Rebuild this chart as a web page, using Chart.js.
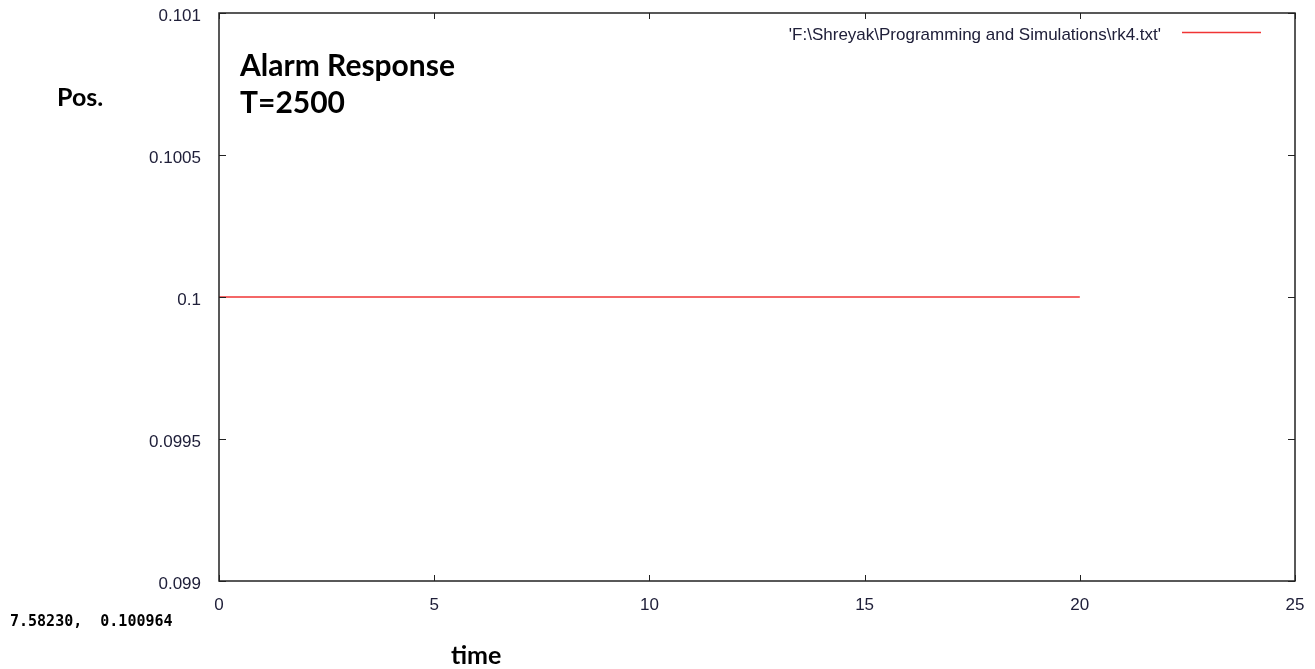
<!DOCTYPE html>
<html>
<head>
<meta charset="utf-8">
<script src="https://cdn.jsdelivr.net/npm/chart.js@4.4.1/dist/chart.umd.min.js"></script>
<style>
  body { margin: 0; background: #fff; }
  #wrap { width: 1315px; height: 669px; }
</style>
</head>
<body>
<div id="wrap"><canvas id="chartAlarm" width="1315" height="669"></canvas></div>
<script>
// data (rk4.txt)
const time = [0, 5, 10, 15, 20];
const pos = [0.1, 0.1, 0.1, 0.1, 0.1];

const xTicks = [0, 5, 10, 15, 20, 25];
const yTicks = [0.099, 0.0995, 0.1, 0.1005, 0.101];
const yTickLabels = ['0.099', '0.0995', '0.1', '0.1005', '0.101'];

const seriesLabel = "'F:\\Shreyak\\Programming and Simulations\\rk4.txt'";
const titleLines = ['Alarm Response', 'T=2500'];
const mouseCoords = '7.58230,  0.100964';

const tickColor = '#20203a';
const boldFont = 'Lato, "Open Sans", sans-serif';
const tickFont = { family: '"Liberation Sans", Arial', size: 17 };

// frame + inside tick marks on all four sides, gnuplot style
const framePlugin = {
    id: 'frame',
    afterDraw(chart) {
        const { ctx, chartArea: a, scales } = chart;
        ctx.save();
        ctx.strokeStyle = '#222';
        ctx.lineWidth = 1.5;
        ctx.strokeRect(a.left, a.top, a.right - a.left, a.bottom - a.top);
        ctx.lineWidth = 1;
        ctx.beginPath();
        xTicks.forEach(v => {
            const px = Math.round(scales.x.getPixelForValue(v)) + 0.5;
            ctx.moveTo(px, a.bottom); ctx.lineTo(px, a.bottom - 6);
            ctx.moveTo(px, a.top); ctx.lineTo(px, a.top + 6);
        });
        yTicks.forEach(v => {
            const py = Math.round(scales.y.getPixelForValue(v)) + 0.5;
            ctx.moveTo(a.left, py); ctx.lineTo(a.left + 7, py);
            ctx.moveTo(a.right, py); ctx.lineTo(a.right - 7, py);
        });
        ctx.stroke();

        // key, top right
        ctx.font = '17px "Liberation Sans", Arial, sans-serif';
        ctx.fillStyle = tickColor;
        ctx.textAlign = 'right';
        ctx.textBaseline = 'middle';
        ctx.fillText(seriesLabel, 1161, 35);
        ctx.strokeStyle = chart.data.datasets[0].borderColor;
        ctx.lineWidth = 1.5;
        ctx.beginPath();
        ctx.moveTo(1182, 32.5); ctx.lineTo(1261, 32.5);
        ctx.stroke();

        // labels
        ctx.fillStyle = '#000';
        ctx.textAlign = 'left';
        ctx.font = 'bold 30px ' + boldFont;
        ctx.fillText(titleLines[0], 240, 66);
        ctx.fillText(titleLines[1], 240, 103);
        ctx.font = 'bold 25px ' + boldFont;
        ctx.fillText('Pos.', 57, 98);
        ctx.fillText('time', 451, 656);
        ctx.font = 'bold 15px "DejaVu Sans Mono", monospace';
        ctx.fillText(mouseCoords, 10, 622);
        ctx.restore();
    }
};

new Chart(document.getElementById('chartAlarm'), {
    type: 'line',
    data: {
        datasets: [{
            label: seriesLabel,
            data: time.map((t, i) => ({ x: t, y: pos[i] })),
            borderColor: '#f03434',
            borderWidth: 1.5,
            pointRadius: 0,
            tension: 0,
            fill: false
        }]
    },
    options: {
        responsive: false,
        animation: false,
        layout: { padding: { top: 13, right: 20, left: 0, bottom: 0 } },
        plugins: {
            legend: { display: false },
            tooltip: { enabled: false }
        },
        scales: {
            x: {
                type: 'linear',
                min: 0,
                max: 25,
                afterBuildTicks: s => { s.ticks = xTicks.map(v => ({ value: v })); },
                afterFit: s => { s.height = 88; s.paddingLeft = 0; s.paddingRight = 0; },
                grid: { display: false, drawTicks: false },
                border: { display: false },
                ticks: {
                    padding: 14,
                    maxRotation: 0,
                    color: tickColor,
                    font: tickFont,
                    callback: v => String(v)
                }
            },
            y: {
                type: 'linear',
                min: 0.099,
                max: 0.101,
                afterBuildTicks: s => { s.ticks = yTicks.map(v => ({ value: v })); },
                afterFit: s => { s.width = 219; s.paddingTop = 0; s.paddingBottom = 0; },
                grid: { display: false, drawTicks: false },
                border: { display: false },
                ticks: {
                    padding: 18,
                    labelOffset: 3,
                    color: tickColor,
                    font: tickFont,
                    callback: v => yTickLabels[yTicks.indexOf(v)] ?? String(v)
                }
            }
        }
    },
    plugins: [framePlugin]
});
</script>
</body>
</html>
